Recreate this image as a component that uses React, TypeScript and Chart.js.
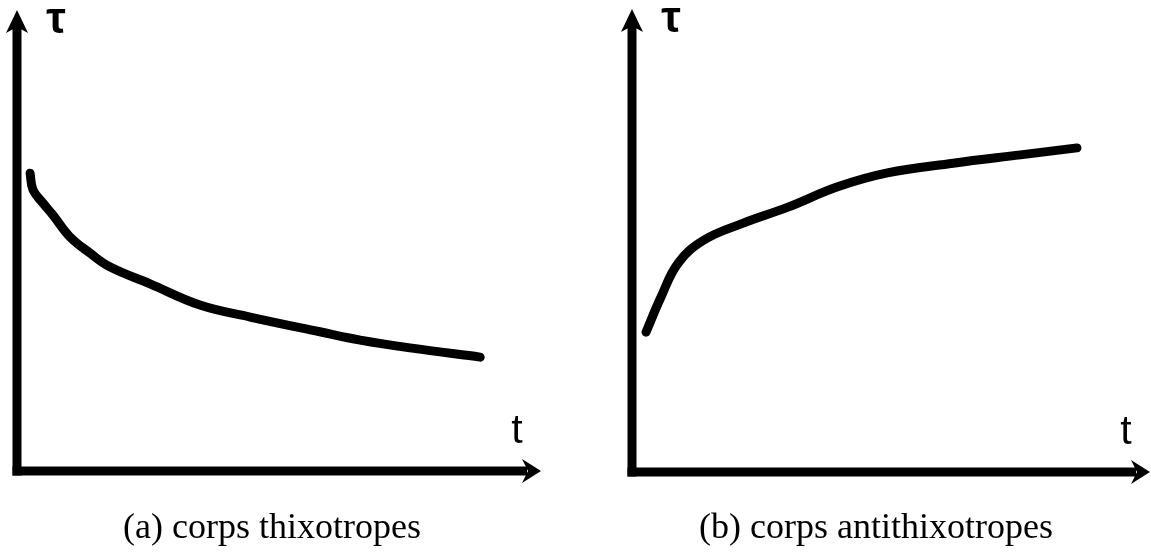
import React, { useEffect, useRef } from "react";
import { Chart, registerables } from "chart.js";

Chart.register(...registerables);

// Thixotropic body: shear stress falls with time
const TIME_A = [2.5, 3.05, 4.96, 6.87, 10.1, 13.9, 17.7, 25.4, 34.9, 44.5, 57.8, 65.5, 75, 88.4];
const TAU_A = [64.6, 61, 58.1, 55.5, 50.8, 47.3, 44.3, 40.6, 36, 33.4, 30.2, 28.4, 26.7, 24.7];

// Antithixotropic body: shear stress rises with time
const TIME_B = [2.7, 5.6, 8.9, 13.9, 21.6, 30.1, 39.7, 49.3, 62, 75, 85.9];
const TAU_B = [30.2, 37.8, 45.1, 50.1, 53.8, 57.2, 61.6, 64.6, 66.7, 68.5, 70];

const Y_LABEL = "τ";
const X_LABEL = "t";
const CAPTIONS = ["(a) corps thixotropes", "(b) corps antithixotropes"];

type PanelProps = {
  times: number[];
  taus: number[];
  caption: string;
  width: number;
  height: number;
  padding: { left: number; right: number; top: number; bottom: number };
  captionX: number;
  captionY: number;
};

function Panel({ times, taus, caption, width, height, padding, captionX, captionY }: PanelProps) {
  const ref = useRef<HTMLCanvasElement | null>(null);

  useEffect(() => {
    if (!ref.current) return;

    const axesPlugin = {
      id: "arrowAxes",
      afterDraw(chart: any) {
        const { ctx, chartArea } = chart;
        const { left, right, top, bottom } = chartArea;
        ctx.save();
        ctx.fillStyle = "#000";
        ctx.strokeStyle = "#000";
        ctx.lineWidth = 9;
        ctx.lineCap = "butt";

        // vertical axis
        ctx.beginPath();
        ctx.moveTo(left, bottom + 4.5);
        ctx.lineTo(left, top + 14);
        ctx.stroke();
        ctx.beginPath();
        ctx.moveTo(left, top);
        ctx.lineTo(left + 11, top + 23);
        ctx.lineTo(left, top + 17);
        ctx.lineTo(left - 11, top + 23);
        ctx.closePath();
        ctx.fill();

        // horizontal axis
        ctx.beginPath();
        ctx.moveTo(left - 4.5, bottom);
        ctx.lineTo(right - 14, bottom);
        ctx.stroke();
        ctx.beginPath();
        ctx.moveTo(right, bottom);
        ctx.lineTo(right - 19, bottom - 12);
        ctx.lineTo(right - 13, bottom);
        ctx.lineTo(right - 19, bottom + 12);
        ctx.closePath();
        ctx.fill();

        // axis names
        ctx.textAlign = "center";
        ctx.textBaseline = "alphabetic";
        ctx.font = "bold 44px 'Liberation Sans'";
        ctx.fillText(Y_LABEL, left + 39, top + 23);
        ctx.font = "41px 'Liberation Sans'";
        ctx.fillText(X_LABEL, right - 24, bottom - 28);

        // panel caption
        ctx.font = "36px 'Liberation Serif'";
        ctx.fillText(caption, captionX, captionY);
        ctx.restore();
      },
    };

    const chart = new Chart(ref.current, {
      type: "line",
      data: {
        datasets: [
          {
            data: times.map((t, i) => ({ x: t, y: taus[i] })),
            borderColor: "#000",
            borderWidth: 9,
            pointRadius: 0,
            tension: 0.4,
            borderCapStyle: "round",
            borderJoinStyle: "round",
          },
        ],
      },
      options: {
        responsive: false,
        animation: false,
        devicePixelRatio: 1,
        layout: { padding },
        plugins: { legend: { display: false }, tooltip: { enabled: false } },
        scales: {
          x: { type: "linear", min: 0, max: 100, display: false },
          y: { type: "linear", min: 0, max: 100, display: false },
        },
      },
      plugins: [axesPlugin],
    } as any);

    return () => chart.destroy();
  }, [times, taus, caption, width, height, padding, captionX, captionY]);

  return <canvas ref={ref} width={width} height={height} style={{ display: "block" }} />;
}

const PAD_A = { left: 17, right: 34, top: 10, bottom: 85 };
const PAD_B = { left: 57, right: 1, top: 9, bottom: 84 };

export default function App() {
  return (
    <div
      style={{
        position: "absolute",
        left: 0,
        top: 0,
        width: 1151,
        height: 556,
        background: "#fff",
        display: "flex",
      }}
    >
      <Panel
        times={TIME_A}
        taus={TAU_A}
        caption={CAPTIONS[0]}
        width={575}
        height={556}
        padding={PAD_A}
        captionX={272}
        captionY={538}
      />
      <Panel
        times={TIME_B}
        taus={TAU_B}
        caption={CAPTIONS[1]}
        width={576}
        height={556}
        padding={PAD_B}
        captionX={301}
        captionY={538}
      />
    </div>
  );
}
